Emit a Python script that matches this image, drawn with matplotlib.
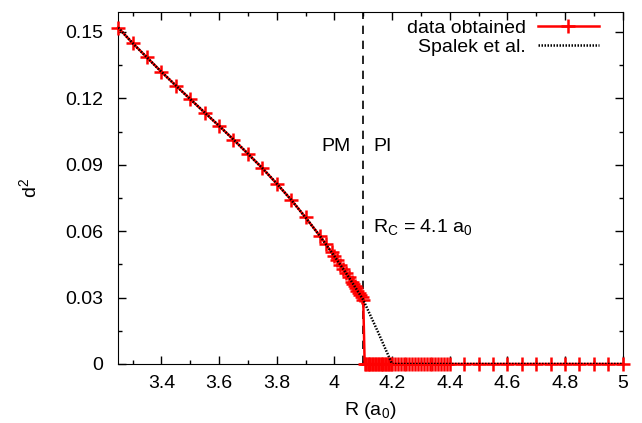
import matplotlib
matplotlib.use("Agg")
from matplotlib import pyplot as plt
from matplotlib.ticker import FixedLocator, MultipleLocator

plt.rcParams['font.family'] = ['Liberation Sans', 'DejaVu Sans']
plt.rcParams['mathtext.fontset'] = 'custom'
plt.rcParams['mathtext.rm'] = 'Liberation Sans'
plt.rcParams['mathtext.it'] = 'Liberation Sans'

# data obtained: metallic side (d^2 > 0)
r_pm = [3.25, 3.30, 3.35, 3.40, 3.45, 3.50, 3.55, 3.60, 3.65, 3.70,
        3.75, 3.80, 3.85, 3.90, 3.95, 3.97, 3.99, 4.00, 4.01, 4.02,
        4.03, 4.04, 4.05, 4.06, 4.065, 4.07, 4.075, 4.08, 4.085, 4.09,
        4.095, 4.10]
d2_pm = [0.1520, 0.1450, 0.1385, 0.1320, 0.1258, 0.1197, 0.1136, 0.1076, 0.1014, 0.0950,
         0.0885, 0.0815, 0.0742, 0.0662, 0.0578, 0.0542, 0.0505, 0.0487, 0.0468, 0.0449,
         0.0430, 0.0411, 0.0392, 0.0372, 0.0362, 0.0352, 0.0342, 0.0332, 0.0322, 0.0311,
         0.0301, 0.0290]

# data obtained: insulating side (d^2 = 0)
r_pi = [4.105, 4.110, 4.115, 4.120, 4.125, 4.130, 4.135, 4.140, 4.145, 4.150,
        4.155, 4.160, 4.165, 4.170, 4.175, 4.180, 4.185, 4.190, 4.195, 4.200,
        4.21, 4.22, 4.23, 4.24, 4.25, 4.26, 4.27, 4.28, 4.29, 4.30,
        4.31, 4.32, 4.33, 4.34, 4.35, 4.36, 4.37, 4.38, 4.39, 4.40,
        4.45, 4.50, 4.55, 4.60, 4.65, 4.70, 4.75, 4.80, 4.85, 4.90, 4.95, 5.00]
d2_pi = [0.0] * len(r_pi)

# Spalek et al. reference curve
r_sp = [3.25, 3.30, 3.35, 3.40, 3.45, 3.50, 3.55, 3.60, 3.65, 3.70,
        3.75, 3.80, 3.85, 3.90, 3.95, 4.00, 4.05, 4.10, 4.15, 4.20, 5.00]
d2_sp = [0.1520, 0.1450, 0.1385, 0.1320, 0.1258, 0.1197, 0.1136, 0.1076, 0.1014, 0.0950,
         0.0885, 0.0815, 0.0742, 0.0662, 0.0578, 0.0487, 0.0392, 0.0290, 0.0148, 0.0, 0.0]

r_c = 4.1
fs = 14

fig = plt.figure(figsize=(6.42, 4.23), dpi=100)
ax = fig.add_axes([0.184, 0.1395, 0.786, 0.832])

ax.axvline(r_c, color='black', lw=1.2, dashes=(5, 4), zorder=1)

ax.plot(r_pm + r_pi, d2_pm + d2_pi, color='red', lw=1.8, marker='+', ms=10, mew=1.8,
        label='data obtained', clip_on=False, zorder=3)
ax.plot(r_sp, d2_sp, color='black', lw=1.8, ls=(0, (0.6, 0.6)),
        label='Spalek et al.', zorder=4)

ax.text(4.006, 0.0983, 'PM', fontsize=fs, ha='center', va='center')
ax.text(4.166, 0.0983, 'PI', fontsize=fs, ha='center', va='center')
ax.text(4.133, 0.0621, r'R$_\mathrm{C}$ = 4.1 a$_0$', fontsize=fs, ha='left', va='center')

ax.set_xlim(3.25, 5.0)
ax.set_ylim(0, 0.159)
ax.xaxis.set_major_locator(FixedLocator([3.4, 3.6, 3.8, 4.0, 4.2, 4.4, 4.6, 4.8, 5.0]))
ax.set_xticklabels(['3.4', '3.6', '3.8', '4', '4.2', '4.4', '4.6', '4.8', '5'])
ax.xaxis.set_minor_locator(MultipleLocator(0.1))
ax.yaxis.set_major_locator(FixedLocator([0, 0.03, 0.06, 0.09, 0.12, 0.15]))
ax.set_yticklabels(['0', '0.03', '0.06', '0.09', '0.12', '0.15'])
ax.yaxis.set_minor_locator(MultipleLocator(0.015))
ax.tick_params(which='both', direction='in', top=True, right=True, labelsize=fs)
ax.tick_params(which='major', length=6, width=1)
ax.tick_params(which='minor', length=3, width=1)
ax.tick_params(axis='x', pad=8)
ax.tick_params(axis='y', pad=10.5)

ax.set_xlabel(r'R (a$_0$)', fontsize=fs)
ax.set_ylabel(r'd$^2$', fontsize=fs)
ax.xaxis.set_label_coords(0.5, -0.103)
ax.yaxis.set_label_coords(-0.155, 0.5)

ax.legend(loc='upper right', bbox_to_anchor=(0.953, 0.98), frameon=False,
          markerfirst=False, fontsize=fs, handlelength=3.14, borderaxespad=0,
          borderpad=0, labelspacing=0.1, handletextpad=0.62)

fig.savefig('out.png', dpi=100)
